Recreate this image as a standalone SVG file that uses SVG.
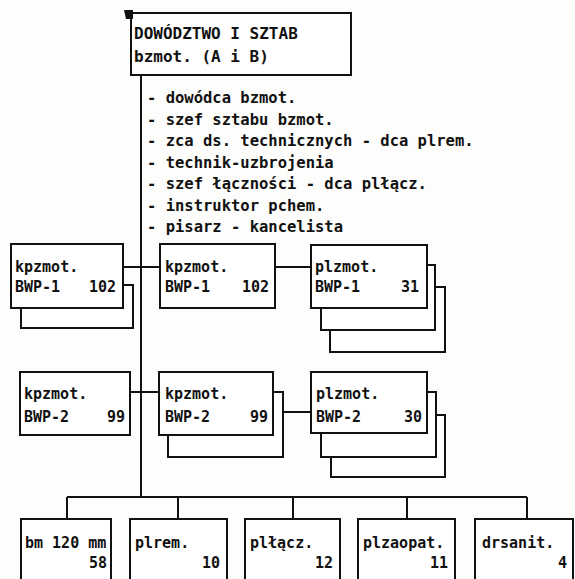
<svg xmlns="http://www.w3.org/2000/svg" width="575" height="579" viewBox="0 0 575 579">
<style>
.bx{fill:#fff;stroke:#111;stroke-width:2}
.ln{fill:none;stroke:#111;stroke-width:2}
text{font-family:"DejaVu Sans Mono","Liberation Mono",monospace;font-weight:bold;font-size:15px;fill:#111}
.big{font-size:16px}
.lst{font-size:15.5px}
.e{text-anchor:end}
</style>
<rect width="575" height="579" fill="#fdfdfb"/>
<g id="connectors">
<path class="ln" d="M141 75V497M67 497H527M67 497V519M178 497V519M293 497V519M407 497V519M527 497V519"/>
<path class="ln" d="M123 267H160M275 267H311M130 392H159M283 412H311"/>
</g>
<g id="hq">
<rect class="bx" x="131" y="13" width="220" height="62"/>
<path d="M124 10H133V19H126Z" fill="#111"/>
<text class="big" x="134" y="39">DOWÓDZTWO I SZTAB</text>
<text class="big" x="134" y="62">bzmot. (A i B)</text>
</g>
<g id="staff" class="lst">
<text class="lst" x="147" y="103">- dowódca bzmot.</text>
<text class="lst" x="147" y="124.5">- szef sztabu bzmot.</text>
<text class="lst" x="147" y="146">- zca ds. technicznych - dca plrem.</text>
<text class="lst" x="147" y="167.5">- technik-uzbrojenia</text>
<text class="lst" x="147" y="189">- szef łączności - dca plłącz.</text>
<text class="lst" x="147" y="210.5">- instruktor pchem.</text>
<text class="lst" x="147" y="232">- pisarz - kancelista</text>
</g>
<g id="kp1a">
<rect class="bx" x="21" y="285" width="112" height="43"/>
<rect class="bx" x="11" y="244" width="112" height="64"/>
<text x="15" y="272">kpzmot.</text>
<text x="15" y="292">BWP-1</text>
<text class="e" x="116" y="292">102</text>
</g>
<g id="kp1b">
<rect class="bx" x="160" y="244" width="115" height="64"/>
<text x="165" y="272">kpzmot.</text>
<text x="165" y="292">BWP-1</text>
<text class="e" x="269" y="292">102</text>
</g>
<g id="pl1">
<rect class="bx" x="330" y="287" width="115" height="65"/>
<rect class="bx" x="321" y="265" width="114" height="65"/>
<rect class="bx" x="311" y="245" width="116" height="63"/>
<text x="315" y="272">plzmot.</text>
<text x="315" y="292">BWP-1</text>
<text class="e" x="419" y="292">31</text>
</g>
<g id="kp2a">
<rect class="bx" x="20" y="372" width="110" height="63"/>
<text x="24" y="399">kpzmot.</text>
<text x="24" y="422">BWP-2</text>
<text class="e" x="125" y="422">99</text>
</g>
<g id="kp2b">
<rect class="bx" x="168" y="392" width="115" height="65"/>
<rect class="bx" x="159" y="372" width="114" height="63"/>
<text x="165" y="399">kpzmot.</text>
<text x="165" y="422">BWP-2</text>
<text class="e" x="268" y="422">99</text>
</g>
<g id="pl2">
<rect class="bx" x="331" y="415" width="114" height="62"/>
<rect class="bx" x="321" y="392" width="115" height="65"/>
<rect class="bx" x="311" y="372" width="116" height="61"/>
<text x="316" y="399">plzmot.</text>
<text x="316" y="422">BWP-2</text>
<text class="e" x="422" y="422">30</text>
</g>
<g id="bm">
<rect class="bx" x="21" y="519" width="90" height="70"/>
<text x="25" y="548">bm 120 mm</text>
<text class="e" x="107" y="568">58</text>
</g>
<g id="plrem">
<rect class="bx" x="130" y="519" width="97" height="70"/>
<text x="135" y="548">plrem.</text>
<text class="e" x="220" y="568">10</text>
</g>
<g id="pllacz">
<rect class="bx" x="245" y="519" width="95" height="70"/>
<text x="250" y="548">plłącz.</text>
<text class="e" x="333" y="568">12</text>
</g>
<g id="plzaopat">
<rect class="bx" x="358" y="519" width="97" height="70"/>
<text x="363" y="548">plzaopat.</text>
<text class="e" x="448" y="568">11</text>
</g>
<g id="drsanit">
<rect class="bx" x="475" y="519" width="98" height="70"/>
<text x="482" y="548">drsanit.</text>
<text class="e" x="567" y="568">4</text>
</g>
</svg>
